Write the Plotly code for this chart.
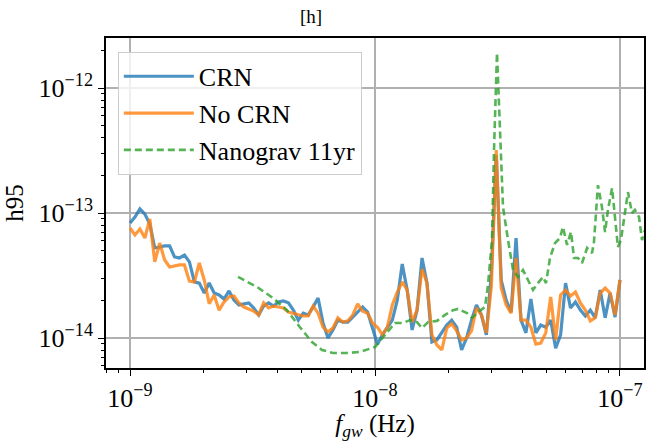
import numpy as np
import plotly.graph_objects as go

# Frequency grid shared by CRN / No CRN (Hz)
freqs = np.logspace(-9, -7, 100)

crn = [8.32e-14, 9.29e-14, 1.08e-13, 9.8e-14, 8.17e-14, 5.25e-14, 5.35e-14, 5.45e-14, 5.45e-14, 4.45e-14,
       4.37e-14, 4.61e-14, 4.06e-14, 2.81e-14, 2.75e-14, 2.29e-14, 2.75e-14, 2.29e-14, 2.21e-14, 2.05e-14,
       2.38e-14, 2.01e-14, 1.84e-14, 1.87e-14, 1.91e-14, 1.74e-14, 1.53e-14, 1.80e-14, 1.91e-14, 1.80e-14,
       1.94e-14, 1.98e-14, 1.91e-14, 1.67e-14, 1.39e-14, 1.58e-14, 1.53e-14, 1.77e-14, 2.09e-14, 1.32e-14,
       1.00e-14, 1.16e-14, 1.39e-14, 1.34e-14, 1.34e-14, 1.47e-14, 1.61e-14, 1.77e-14, 1.61e-14, 1.22e-14,
       8.9e-15, 1.06e-14, 1.20e-14, 1.39e-14, 2.01e-14, 3.91e-14, 2.42e-14, 1.16e-14, 1.67e-14, 4.37e-14,
       2.75e-14, 9.29e-15, 9.64e-15, 1.10e-14, 1.27e-14, 1.39e-14, 1.22e-14, 8.02e-15, 1.00e-14, 1.39e-14,
       1.84e-14, 1.53e-14, 1.06e-14, 3.31e-14, 2.91e-13, 2.91e-14, 2.01e-14, 1.61e-14, 6.31e-14, 1.39e-14,
       1.10e-14, 2.05e-14, 1.10e-14, 1.27e-14, 1.22e-14, 1.39e-14, 8.3e-15, 1.06e-14, 2.75e-14, 1.74e-14,
       1.94e-14, 1.67e-14, 1.50e-14, 1.67e-14, 1.45e-14, 2.42e-14, 1.45e-14, 2.29e-14, 1.47e-14, 2.91e-14]

no_crn = [7.59e-14, 6.67e-14, 7.45e-14, 6.31e-14, 8.95e-14, 4.06e-14, 5.75e-14, 4.21e-14, 3.70e-14, 3.77e-14,
          3.84e-14, 3.84e-14, 2.85e-14, 2.81e-14, 3.98e-14, 2.91e-14, 1.88e-14, 2.21e-14, 1.67e-14, 1.94e-14,
          2.13e-14, 2.17e-14, 1.91e-14, 1.77e-14, 1.71e-14, 1.64e-14, 1.53e-14, 1.91e-14, 1.74e-14, 1.80e-14,
          1.77e-14, 1.74e-14, 1.61e-14, 1.58e-14, 1.55e-14, 1.50e-14, 1.50e-14, 1.80e-14, 1.58e-14, 1.22e-14,
          1.12e-14, 1.20e-14, 1.45e-14, 1.34e-14, 1.37e-14, 1.53e-14, 1.87e-14, 1.64e-14, 1.58e-14, 1.32e-14,
          1.22e-14, 1.06e-14, 1.22e-14, 1.84e-14, 2.33e-14, 2.81e-14, 2.42e-14, 1.34e-14, 1.67e-14, 3.56e-14,
          2.75e-14, 1.06e-14, 8.79e-15, 8.02e-15, 1.20e-14, 1.30e-14, 1.14e-14, 9.64e-15, 1.00e-14, 1.14e-14,
          1.74e-14, 1.53e-14, 1.10e-14, 2.56e-14, 3.19e-13, 2.51e-14, 1.84e-14, 1.58e-14, 4.37e-14, 1.39e-14,
          1.39e-14, 1.22e-14, 8.95e-15, 9.12e-15, 1.10e-14, 2.13e-14, 9.64e-15, 2.21e-14, 2.42e-14, 2.17e-14,
          2.33e-14, 1.91e-14, 1.67e-14, 1.37e-14, 1.45e-14, 2.29e-14, 2.51e-14, 2.29e-14, 1.53e-14, 2.91e-14]

ng_freqs = [2.76e-9, 3.30e-9, 3.83e-9, 4.37e-9, 4.94e-9, 5.53e-9, 6.08e-9, 6.74e-9, 7.69e-9, 8.69e-9,
            1.00e-8, 1.078e-8, 1.151e-8, 1.206e-8, 1.301e-8, 1.39e-8, 1.484e-8, 1.555e-8, 1.645e-8, 1.791e-8,
            1.931e-8, 2.082e-8, 2.182e-8, 2.375e-8, 2.489e-8, 2.633e-8, 2.812e-8, 2.892e-8, 3.003e-8, 3.06e-8,
            3.148e-8, 3.238e-8, 3.330e-8, 3.491e-8, 3.66e-8, 3.836e-8, 4.019e-8, 4.212e-8, 4.415e-8, 4.627e-8,
            4.85e-8, 4.989e-8, 5.18e-8, 5.43e-8, 5.69e-8, 5.85e-8, 6.08e-8, 6.31e-8, 6.49e-8, 6.74e-8,
            7.0e-8, 7.34e-8, 7.69e-8, 7.83e-8, 8.13e-8, 8.44e-8, 8.69e-8, 8.93e-8, 9.28e-8, 9.45e-8,
            9.81e-8, 1.009e-7, 1.048e-7, 1.078e-7, 1.119e-7, 1.151e-7, 1.196e-7, 1.23e-7, 1.265e-7]
ng_h95 = [3.08e-14, 2.56e-14, 2.09e-14, 1.67e-14, 1.22e-14, 9.29e-15, 8.02e-15, 7.59e-15, 7.59e-15, 7.73e-15,
          8.47e-15, 1.02e-14, 1.20e-14, 1.32e-14, 1.32e-14, 1.39e-14, 1.34e-14, 1.20e-14, 1.34e-14, 1.37e-14,
          1.53e-14, 1.67e-14, 1.71e-14, 1.58e-14, 1.45e-14, 1.61e-14, 1.77e-14, 2.65e-14, 6.08e-14, 3.19e-13,
          1.91e-12, 3.84e-13, 1.117e-13, 6.08e-14, 3.50e-14, 3.08e-14, 3.50e-14, 2.91e-14, 2.42e-14, 2.75e-14,
          3.08e-14, 2.75e-14, 4.37e-14, 5.75e-14, 6.31e-14, 7.73e-14, 5.55e-14, 7.05e-14, 4.37e-14, 4.37e-14,
          3.98e-14, 5.25e-14, 4.79e-14, 5.86e-14, 1.67e-13, 1.117e-13, 7.05e-14, 1.057e-13, 1.58e-13, 1.117e-13,
          5.35e-14, 6.08e-14, 1.057e-13, 1.47e-13, 1.0e-13, 1.057e-13, 9.29e-14, 6.08e-14, 7.31e-14]

series_names = ["CRN", "No CRN", "Nanograv 11yr"]
x_tick_vals = [1e-9, 1e-8, 1e-7]
x_tick_text = ["10<sup>−9</sup>", "10<sup>−8</sup>", "10<sup>−7</sup>"]
y_tick_vals = [1e-14, 1e-13, 1e-12]
y_tick_text = ["10<sup>−14</sup>", "10<sup>−13</sup>", "10<sup>−12</sup>"]

SERIF = "Liberation Serif"

fig = go.Figure()
fig.add_trace(go.Scatter(x=freqs, y=crn, mode="lines", name=series_names[0], legendgroup="a",
                         line=dict(color="rgba(31,119,180,0.8)", width=3.2)))
fig.add_trace(go.Scatter(x=freqs, y=no_crn, mode="lines", name=series_names[1], legendgroup="b",
                         line=dict(color="rgba(255,127,14,0.8)", width=3.2)))
fig.add_trace(go.Scatter(x=ng_freqs, y=ng_h95, mode="lines", name=series_names[2], legendgroup="c",
                         line=dict(color="rgba(44,160,44,0.8)", width=2.6, dash="7px,4px")))

axis_common = dict(
    type="log", showline=True, linecolor="black", linewidth=1.5, mirror=True,
    showgrid=True, gridcolor="#b0b0b0", gridwidth=2,
    ticks="outside", ticklen=6, tickwidth=1.2, tickcolor="black",
    tickfont=dict(family=SERIF, size=26, color="black"),
    zeroline=False,
    minor=dict(ticks="outside", ticklen=3.5, tickwidth=1, tickcolor="black", showgrid=False, dtick="D1"),
)

fig.update_xaxes(**axis_common, range=[-9.098, -6.902], tickvals=x_tick_vals, ticktext=x_tick_text,
                 title=dict(text="<i>f</i><sub><i>gw</i></sub> (Hz)", font=dict(family=SERIF, size=25, color="black"),
                            standoff=2))
fig.update_yaxes(**axis_common, range=[-14.24, -11.6], tickvals=y_tick_vals, ticktext=y_tick_text,
                 title=dict(text="h95", font=dict(family=SERIF, size=25, color="black"), standoff=8))

fig.update_layout(
    width=646, height=441,
    margin=dict(l=106, r=2, t=38, b=73, autoexpand=False),
    paper_bgcolor="white", plot_bgcolor="white",
    title=dict(text="[h]", x=311 / 646, xanchor="center", y=1 - 16 / 441, yanchor="middle",
               font=dict(family=SERIF, size=19, color="black")),
    legend=dict(x=0.022, y=0.958, xanchor="left", yanchor="top",
                bgcolor="rgba(255,255,255,0.8)", bordercolor="#cccccc", borderwidth=1,
                font=dict(family=SERIF, size=26, color="black"),
                tracegroupgap=0, itemwidth=70),
    showlegend=True,
)

fig.write_html("out.html", config={"displayModeBar": False},
               post_script="document.body.style.margin='0';document.body.style.padding='0';")
